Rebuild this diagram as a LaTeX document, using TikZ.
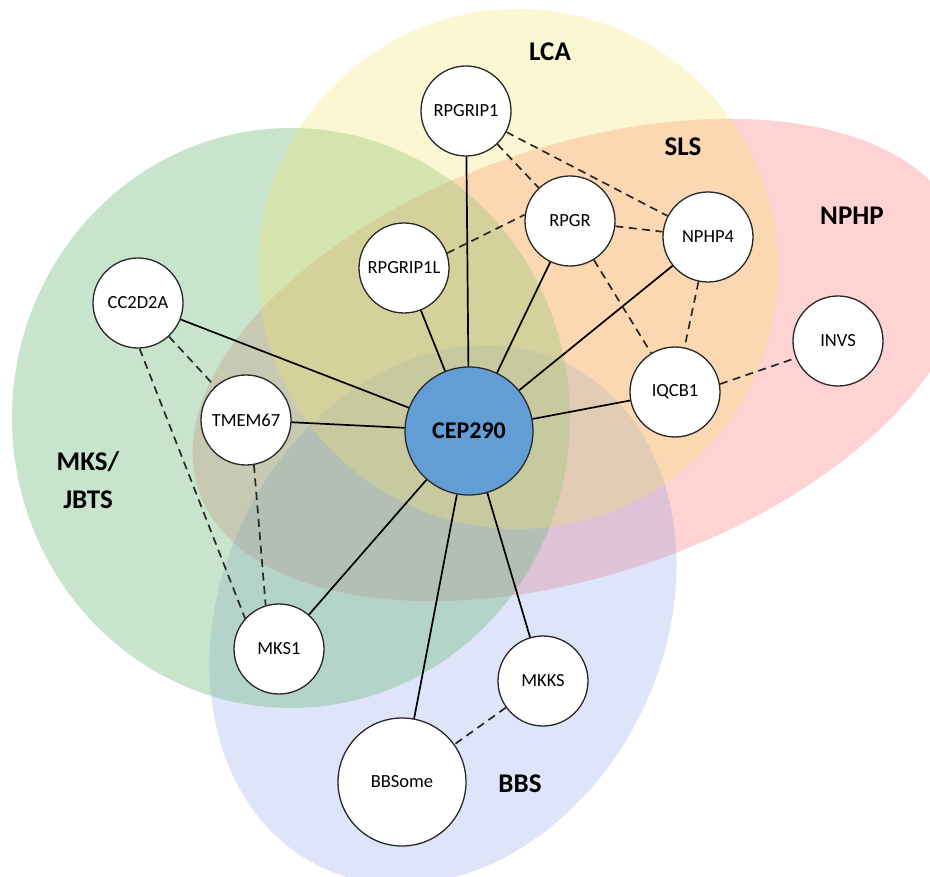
\documentclass[tikz,border=0pt]{standalone}
\usepackage{fontspec}
\setmainfont{Carlito}
\definecolor{lcaYellow}{RGB}{242,228,105}
\definecolor{mksGreen}{RGB}{118,188,130}
\definecolor{nphpPink}{RGB}{255,210,211}
\definecolor{bbsBlue}{RGB}{123,147,231}
\definecolor{hubBlue}{RGB}{98,157,214}
\definecolor{rimGray}{RGB}{40,40,40}
\tikzset{
  gene/.style={circle, draw=rimGray, line width=1.3pt, fill=white, minimum size=90pt,
    inner sep=0pt, font=\fontsize{18.5}{21}\selectfont},
  biggene/.style={gene, minimum size=128pt},
  hub/.style={gene, minimum size=128pt, fill=hubBlue, font=\fontsize{24}{27}\selectfont\bfseries},
  grouplabel/.style={font=\fontsize{27}{38}\selectfont\bfseries, align=center, inner sep=0pt},
  direct/.style={line width=1.7pt, black},
  indirect/.style={line width=1.7pt, rimGray, dash pattern=on 8pt off 5.5pt},
}
\begin{document}
\begin{tikzpicture}[x=1pt, y=-1pt]
\useasboundingbox (0,0) rectangle (930,877);

% disease groups, overlapping (translucent layers)
\fill[nphpPink, rotate around={19:(580,360)}] (580,360) ellipse [x radius=403, y radius=214];
\fill[bbsBlue, fill opacity=0.25, rotate around={-26:(443,615)}] (443,615) ellipse [x radius=221, y radius=280];
\fill[mksGreen, fill opacity=0.4] (291,418) ellipse [x radius=279, y radius=290];
\fill[lcaYellow, fill opacity=0.3] (518,269) circle [radius=260];

% group names
\node[grouplabel] (lca)  at (550,52)  {LCA};
\node[grouplabel] (sls)  at (683,147) {SLS};
\node[grouplabel] (nphp) at (852,216) {NPHP};
\node[grouplabel] (mks)  at (88,480)  {MKS/\\JBTS};
\node[grouplabel] (bbs)  at (520,784) {BBS};

% genes
\node[hub]  (cep)  at (469,431) {CEP290};
\node[gene] (rpgrip1)  at (466,111) {RPGRIP1};
\node[gene] (rpgr)     at (570,221) {RPGR};
\node[gene] (rpgrip1l) at (404,268) {RPGRIP1L};
\node[gene] (nphp4)    at (708,237) {NPHP4};
\node[gene] (invs)     at (838,341) {INVS};
\node[gene] (iqcb1)    at (675,392) {IQCB1};
\node[gene] (cc2d2a)   at (138,303) {CC2D2A};
\node[gene] (tmem67)   at (246,420) {TMEM67};
\node[gene] (mks1)     at (279,649) {MKS1};
\node[gene] (mkks)     at (543,681) {MKKS};
\node[biggene] (bbsome) at (402,782) {BBSome};

% direct interactions with CEP290
\foreach \g in {rpgrip1, rpgr, rpgrip1l, nphp4, iqcb1, cc2d2a, tmem67, mks1, mkks, bbsome}
  \draw[direct] (cep) -- (\g);

% other interactions
\draw[indirect] (rpgrip1) -- (rpgr);
\draw[indirect] (rpgrip1) -- (nphp4);
\draw[indirect] (rpgrip1l.19) -- (rpgr.172);
\draw[indirect] (rpgr) -- (nphp4);
\draw[indirect] (rpgr) -- (iqcb1);
\draw[indirect] (nphp4) -- (iqcb1);
\draw[indirect] (iqcb1.10) -- (invs.-158);
\draw[indirect] (cc2d2a) -- (tmem67);
\draw[indirect] (cc2d2a.-88) -- (mks1.138);
\draw[indirect] (tmem67.-80) -- (mks1.107);
\draw[indirect] (mkks) -- (bbsome);
\end{tikzpicture}
\end{document}
